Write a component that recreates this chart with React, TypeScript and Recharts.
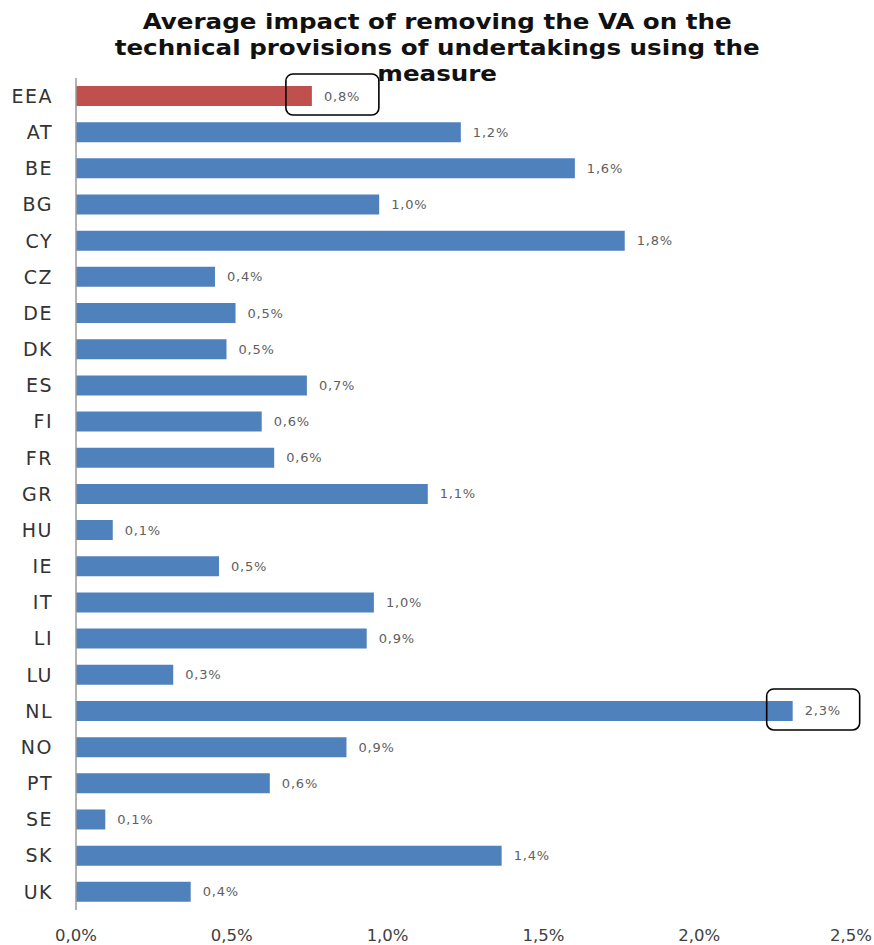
import React from "react";
import { BarChart, Bar, XAxis, YAxis, Cell, LabelList } from "recharts";

const countries = ["EEA", "AT", "BE", "BG", "CY", "CZ", "DE", "DK", "ES", "FI", "FR", "GR", "HU", "IE", "IT", "LI", "LU", "NL", "NO", "PT", "SE", "SK", "UK"];
const impact = [0.757, 1.235, 1.601, 0.973, 1.761, 0.446, 0.512, 0.483, 0.741, 0.596, 0.636, 1.129, 0.118, 0.459, 0.956, 0.933, 0.312, 2.3, 0.868, 0.622, 0.094, 1.366, 0.368];
const xTicks = [0, 0.5, 1.0, 1.5, 2.0, 2.5];
const highlighted = ["EEA", "NL"];
const aggregateCategory = "EEA";
const titleLines = [
  "Average impact of removing the VA on the",
  "technical provisions of undertakings using the",
  "measure",
];

const data = countries.map((c, i) => ({ country: c, value: impact[i] }));

const fmt = (v: number) => v.toFixed(1).replace(".", ",") + "%";

const BLUE = "#4F81BD";
const RED = "#C0504D";
const FONT = "DejaVu Sans, Verdana, sans-serif";
const CHART_W = 874;

const ValueLabel = (props: any) => {
  const { x, y, width, height, value, index } = props;
  const end = Number(x) + Number(width);
  const cy = Number(y) + Number(height) / 2;
  const isHl = highlighted.includes(countries[index]);
  return (
    <g>
      {isHl && (
        <rect
          x={end - 26}
          y={cy - 22}
          width={93}
          height={41}
          rx={7}
          ry={7}
          fill="none"
          stroke="#000"
          strokeWidth={1.6}
        />
      )}
      <text
        x={end + 12}
        y={cy}
        dominantBaseline="central"
        fontFamily={FONT}
        fontSize={13}
        letterSpacing={0.8}
        fill="#606060"
      >
        {fmt(Number(value))}
      </text>
    </g>
  );
};

const XTick = (props: any) => {
  const { x, y, payload } = props;
  const fs = 16.5;
  const w = 2.54 * fs;
  let cx = Number(x);
  if (cx + w / 2 > CHART_W - 2) cx = CHART_W - 2 - w / 2;
  return (
    <text
      x={cx}
      y={Number(y) + 10}
      textAnchor="middle"
      dominantBaseline="central"
      fontFamily={FONT}
      fontSize={fs}
      fill="#404040"
    >
      {fmt(Number(payload.value))}
    </text>
  );
};

export default function App() {
  return (
    <div style={{ position: "absolute", left: 0, top: 0, width: 874, height: 945, background: "#fff" }}>
      <div
        style={{
          position: "absolute",
          left: 0,
          top: 9,
          width: 874,
          textAlign: "center",
          fontFamily: FONT,
          fontWeight: "bold",
          fontSize: 21,
          lineHeight: "26px",
          color: "#111",
          zIndex: 2,
          transform: "scaleX(1.17)",
          transformOrigin: "436px 0px",
        }}
      >
        {titleLines.map((t, i) => (
          <div key={i}>{t}</div>
        ))}
      </div>
      <BarChart
        width={874}
        height={945}
        data={data}
        layout="vertical"
        margin={{ top: 78, right: 19, bottom: 0, left: 0 }}
        barSize={20}
      >
        <XAxis
          type="number"
          domain={[0, 2.5]}
          ticks={xTicks}
          tickFormatter={fmt}
          axisLine={false}
          tickLine={false}
          tickSize={0}
          tickMargin={15}
          height={35}
          interval={0}
          tick={<XTick />}
        />
        <YAxis
          type="category"
          dataKey="country"
          width={76}
          axisLine={{ stroke: "#9a9a9a", strokeWidth: 1.5 }}
          tickLine={false}
          tickSize={0}
          tickMargin={23}
          interval={0}
          tick={{ fontFamily: FONT, fontSize: 19, fill: "#333", letterSpacing: 1.5 }}
        />
        <Bar dataKey="value" isAnimationActive={false}>
          {data.map((d, i) => (
            <Cell key={i} fill={d.country === aggregateCategory ? RED : BLUE} />
          ))}
          <LabelList dataKey="value" content={<ValueLabel />} />
        </Bar>
      </BarChart>
    </div>
  );
}
